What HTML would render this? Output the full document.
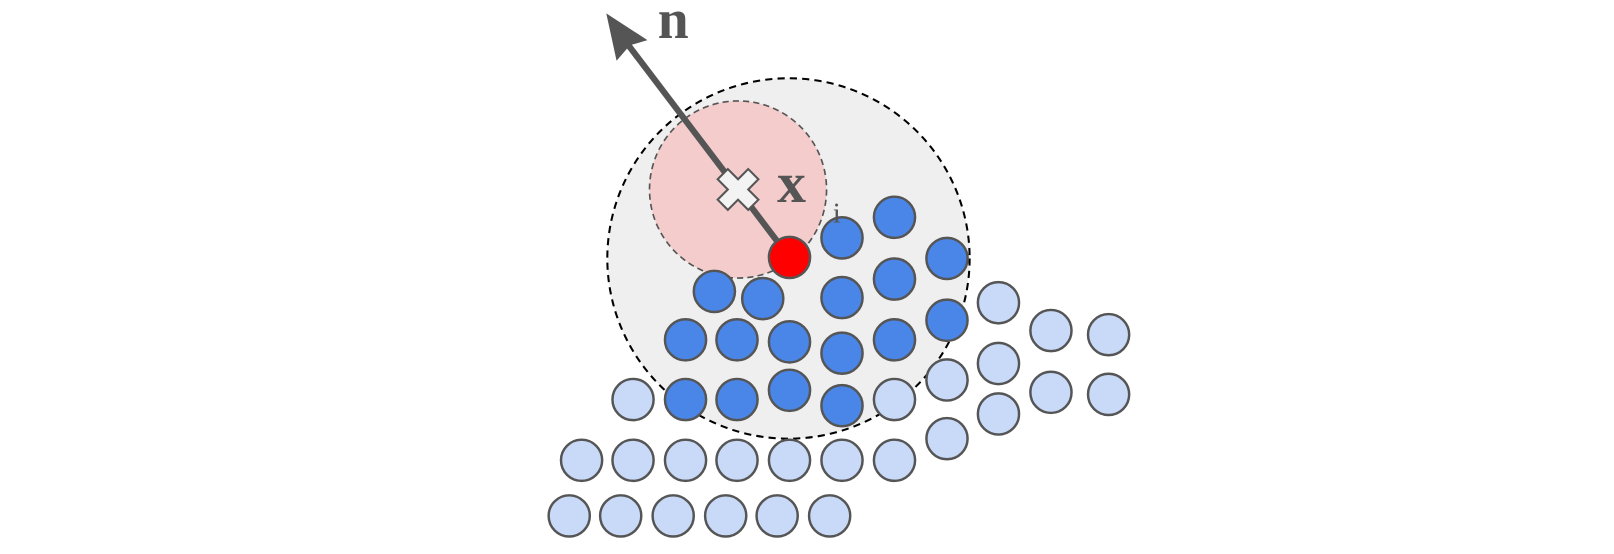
<!DOCTYPE html>
<html><head><meta charset="utf-8"><style>html,body{margin:0;padding:0;background:#fff}svg{display:block}</style></head>
<body>
<svg width="1614" height="554" viewBox="0 0 1568 538" preserveAspectRatio="none" xmlns="http://www.w3.org/2000/svg">
<ellipse cx="766" cy="251" rx="176" ry="175" fill="#efefef" stroke="#000" stroke-width="2" stroke-dasharray="7,5"/>
<circle cx="717" cy="184" r="86" fill="#f4cccc" stroke="#555" stroke-width="1.6" stroke-dasharray="6,4"/>
<g stroke="#555" stroke-width="2.4">
<g fill="#c9daf8">
<circle cx="615" cy="388" r="20"/><circle cx="869" cy="388" r="20"/><circle cx="920" cy="369" r="20"/>
<circle cx="970" cy="294" r="20"/><circle cx="970" cy="353" r="20"/><circle cx="970" cy="402" r="20"/>
<circle cx="920" cy="426" r="20"/><circle cx="1021" cy="321" r="20"/><circle cx="1021" cy="381" r="20"/>
<circle cx="1077" cy="325" r="20"/><circle cx="1077" cy="383" r="20"/>
<circle cx="565" cy="447" r="20"/><circle cx="615" cy="447" r="20"/><circle cx="666" cy="447" r="20"/>
<circle cx="716" cy="447" r="20"/><circle cx="767" cy="447" r="20"/><circle cx="818" cy="447" r="20"/><circle cx="869" cy="447" r="20"/>
<circle cx="553" cy="501" r="20"/><circle cx="603" cy="501" r="20"/><circle cx="654" cy="501" r="20"/>
<circle cx="705" cy="501" r="20"/><circle cx="755" cy="501" r="20"/><circle cx="806" cy="501" r="20"/>
</g>
<g fill="#4a86e8">
<circle cx="818" cy="231" r="20"/><circle cx="869" cy="211" r="20"/><circle cx="920" cy="251" r="20"/>
<circle cx="694" cy="283" r="20"/><circle cx="741" cy="290" r="20"/><circle cx="818" cy="289" r="20"/>
<circle cx="869" cy="271" r="20"/><circle cx="920" cy="311" r="20"/>
<circle cx="666" cy="330" r="20"/><circle cx="716" cy="330" r="20"/><circle cx="767" cy="332" r="20"/>
<circle cx="818" cy="343" r="20"/><circle cx="869" cy="330" r="20"/>
<circle cx="666" cy="388" r="20"/><circle cx="716" cy="388" r="20"/><circle cx="767" cy="379" r="20"/><circle cx="818" cy="394" r="20"/>
</g>
</g>
<line x1="767" y1="250" x2="606" y2="38" stroke="#555" stroke-width="6"/>
<polygon points="589,13 629,39 612,44 599,59" fill="#555"/>
<circle cx="767" cy="250" r="20" fill="#ff0000" stroke="#555" stroke-width="2.4"/>
<g transform="translate(717,184) rotate(45)">
<path d="M-7,-21 H7 V-7 H21 V7 H7 V21 H-7 V7 H-21 V-7 H-7 Z" fill="#f3f3f3" stroke="#555" stroke-width="2"/>
</g>
<text x="639" y="37" font-family="Liberation Serif, serif" font-weight="bold" font-size="54" fill="#555">n</text>
<text x="755" y="196" font-family="Liberation Serif, serif" font-weight="bold" font-size="56" fill="#555">x</text>
<text x="809" y="216" font-family="Liberation Serif, serif" font-size="28" fill="#555">i</text>
</svg>
</body></html>
